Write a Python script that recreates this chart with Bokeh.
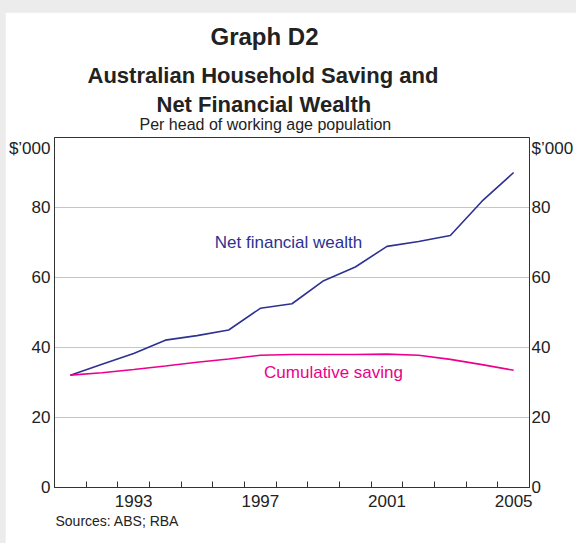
from bokeh.plotting import figure
from bokeh.models import Range1d, LinearAxis, FixedTicker, Label, Title
from bokeh.embed import file_html
from bokeh.resources import INLINE

# ---- data ----
years = [1991, 1992, 1993, 1994, 1995, 1996, 1997, 1998, 1999, 2000,
         2001, 2002, 2003, 2004, 2005]
net_financial_wealth = [32.1, 35.2, 38.3, 42.1, 43.4, 45.0, 51.2, 52.5, 59.1,
                        63.0, 68.9, 70.3, 72.0, 81.8, 90.0]
cumulative_saving = [32.1, 32.8, 33.7, 34.7, 35.8, 36.7, 37.8, 38.0, 38.0,
                     38.0, 38.1, 37.8, 36.6, 35.1, 33.5]
label_years = [1993, 1997, 2001, 2005]
y_ticks = [0, 20, 40, 60, 80]
unit_label = "$\u2019000"
unit_tick = 97

FONT = "Liberation Sans"
TXT = "#222222"
BLUE = "#2e3192"
PINK = "#ec008c"

# page geometry (figure placed at page x=5, y=12 via body padding)
OX, OY = 5, 12
W, H = 571, 531
FL, FR, FT, FB = 54, 529, 137, 487
X0, X1 = years[0], years[-1] + 1
Y0, Y1 = 0, 100

def dx(px):
    return X0 + (px - FL) / (FR - FL) * (X1 - X0)

def dy(py):
    return Y0 + (FB - py) / (FB - FT) * (Y1 - Y0)

p = figure(width=W, height=H, output_backend="svg", toolbar_location=None,
           x_range=Range1d(X0, X1), y_range=Range1d(Y0, Y1),
           min_border_left=FL - OX, min_border_right=OX + W - FR,
           min_border_top=FT - OY, min_border_bottom=OY + H - FB,
           x_axis_location=None, y_axis_location=None)
p.title.visible = False
p.background_fill_color = "white"
p.border_fill_color = "white"
p.outline_line_color = "#333333"
p.outline_line_width = 1
p.xgrid.visible = False
p.ygrid.ticker = FixedTicker(ticks=y_ticks)
p.ygrid.grid_line_color = "#c4c6c8"
p.ygrid.grid_line_width = 1

# x axis: ticks at year boundaries, labels at mid-year
xa = LinearAxis(ticker=FixedTicker(ticks=[y + 0.5 for y in label_years],
                                   minor_ticks=years[1:]))
xa.major_label_overrides = {y + 0.5: str(y) for y in label_years}
xa.major_tick_in = 0
xa.major_tick_out = 0
xa.minor_tick_in = 6
xa.minor_tick_out = 0
xa.minor_tick_line_color = "#333333"
xa.axis_line_color = "#333333"
xa.major_label_standoff = 7
xa.major_label_text_font = FONT
xa.major_label_text_font_size = "17px"
xa.major_label_text_color = TXT
p.add_layout(xa, "below")

for side, standoff in (("left", 4), ("right", 2)):
    ya = LinearAxis(ticker=FixedTicker(ticks=y_ticks + [unit_tick]))
    ya.major_label_overrides = {unit_tick: unit_label}
    ya.major_tick_in = 0
    ya.major_tick_out = 0
    ya.minor_tick_in = 0
    ya.minor_tick_out = 0
    ya.axis_line_color = "#333333"
    ya.major_label_standoff = standoff
    ya.major_label_text_font = FONT
    ya.major_label_text_font_size = "17px"
    ya.major_label_text_color = TXT
    p.add_layout(ya, side)

xs = [y + 0.5 for y in years]
p.line(xs, net_financial_wealth, line_color=BLUE, line_width=1.6)
p.line(xs, cumulative_saving, line_color=PINK, line_width=1.6)

def lab(text, px, py, size, color):
    p.add_layout(Label(x=dx(px), y=dy(py), text=text, text_font=FONT,
                       text_font_size=size, text_color=color,
                       text_align="center", text_baseline="middle"))

lab("Net financial wealth", 288, 242, "17px", BLUE)
lab("Cumulative saving", 333, 372, "17px", PINK)

# titles (added bottom-up: later ones sit higher)
def title(text, left_px, size, bold, standoff, where="above"):
    t = Title(text=text, align="left", offset=left_px - FL, text_font=FONT,
              text_font_size=size, text_color=TXT,
              text_font_style="bold" if bold else "normal", standoff=standoff)
    p.add_layout(t, where)

title("Per head of working age population", 139, "16px", False, 10)
title("Net Financial Wealth", 156, "22px", True, -16)
title("Australian Household Saving and", 87, "22px", True, 20)
title("Graph D2", 210, "24px", True, 2)
title("Sources: ABS; RBA", 55, "14px", False, 3, where="below")

html = file_html(p, INLINE)
html = html.replace("</head>",
                    "<style>html,body{background:#ececec;margin:0;overflow:hidden;}"
                    "body{padding:12px 0 0 5px;}</style></head>", 1)
open("out.html", "w").write(html)
